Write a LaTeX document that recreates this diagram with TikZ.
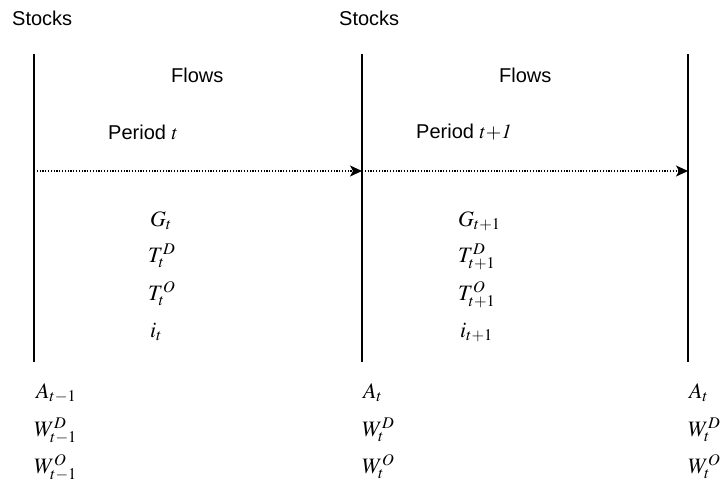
\documentclass[tikz,border=0pt]{standalone}
\usepackage{mathptmx}
\usepackage[no-math]{fontspec}
\setmainfont{Liberation Sans}
\usetikzlibrary{arrows.meta}

\begin{document}
\begin{tikzpicture}[x=1pt, y=-1pt,
    txt/.style={font=\fontsize{20}{24}\selectfont, inner sep=0pt, anchor=base west},
    var/.style={font=\fontsize{22}{26}\selectfont, inner sep=0pt, anchor=base west},
    period/.style={line width=1.2pt, dash pattern=on 1.2pt off 1.6pt,
      -{Stealth[length=12pt, width=11pt, inset=3pt]}}]
      \useasboundingbox (0,0) rectangle (723,483);
      % time line: one stock date per line
      \foreach \n/\x in {0/34,1/362,2/688} {
        \coordinate (top\n) at (\x,54);
        \coordinate (bot\n) at (\x,362);
        \coordinate (mid\n) at (\x,171);
        \draw[line width=1.3pt] (top\n) -- (bot\n);
      }
      \draw[period] (mid0) -- (mid1);
      \draw[period] (mid1) -- (mid2);
      % headings
      \node[txt] (stocks0) at (12,25) {Stocks};
      \node[txt] (stocks1) at (339,25) {Stocks};
      \node[txt] (flows0) at (171,82) {Flows};
      \node[txt] (flows1) at (499,82) {Flows};
      \node[txt] (period0) at (108,139) {Period $t$};
      \node[txt] (period1) at (416,138) {Period $t{+}\mathit{1}$};
      % flows of each period
      \node[var] (g0) at (150,226) {$G_t$};
      \node[var] (td0) at (148,262) {$T_t^D$};
      \node[var] (to0) at (148,300) {$T_t^O$};
      \node[var] (i0) at (150,337) {$i_t$};
      \node[var] (g1) at (458,226) {$G_{t+1}$};
      \node[var] (td1) at (458,262) {$T_{t+1}^D$};
      \node[var] (to1) at (458,300) {$T_{t+1}^O$};
      \node[var] (i1) at (460,337) {$i_{t+1}$};
      % stocks at each date
      \node[var] (a0) at (36,398) {$A_{t-1}$};
      \node[var] (wd0) at (34,436) {$W_{t-1}^D$};
      \node[var] (wo0) at (34,473) {$W_{t-1}^O$};
      \node[var] (a1) at (363,398) {$A_t$};
      \node[var] (wd1) at (362,436) {$W_t^D$};
      \node[var] (wo1) at (362,473) {$W_t^O$};
      \node[var] (a2) at (689,398) {$A_t$};
      \node[var] (wd2) at (688,436) {$W_t^D$};
      \node[var] (wo2) at (688,473) {$W_t^O$};
\end{tikzpicture}
\end{document}
